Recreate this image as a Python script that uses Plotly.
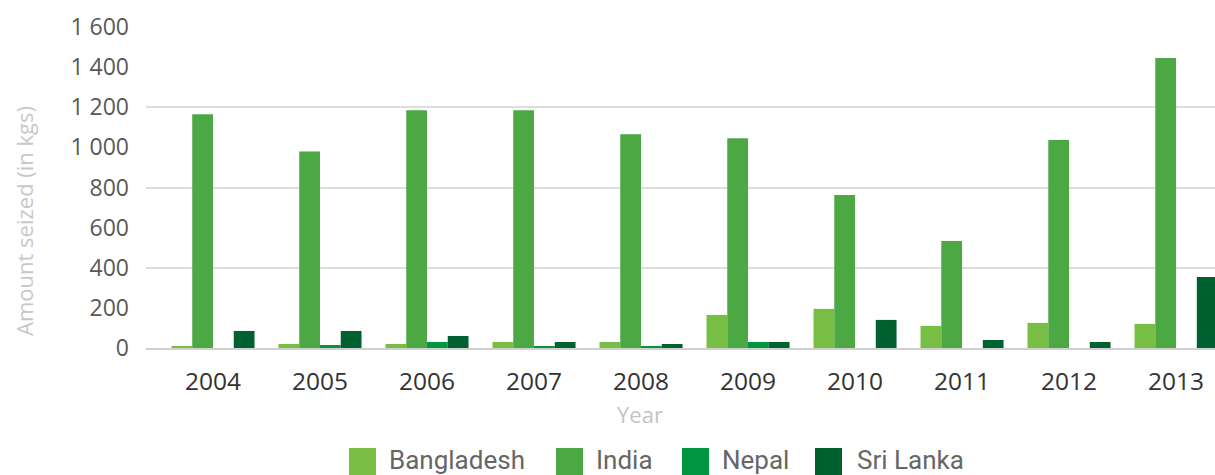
import plotly.graph_objects as go

# Seizures by country and year (kg)
years = ["2004", "2005", "2006", "2007", "2008", "2009", "2010", "2011", "2012", "2013"]
bangladesh = [10, 20, 20, 30, 30, 165, 195, 110, 125, 120]
india = [1165, 980, 1185, 1185, 1065, 1045, 763, 533, 1037, 1446]
nepal = [0, 15, 30, 10, 10, 30, 0, 0, 0, 0]
sri_lanka = [85, 85, 60, 30, 20, 30, 140, 40, 30, 354]

series_names = ["Bangladesh", "India", "Nepal", "Sri Lanka"]
series_values = [bangladesh, india, nepal, sri_lanka]
series_colors = ["#78be44", "#4ba843", "#00953f", "#006130"]

y_ticks = list(range(0, 1601, 200))
grid_ticks = list(range(0, 1601, 400))
Y_MAX = 1605  # a little headroom so the 1 600 gridline is drawn

# Page geometry (pixels)
W, H = 1215, 475
PLOT_L, PLOT_R, PLOT_B = 146, 1215, 348
PX_PER_UNIT = 0.2006
PLOT_T = PLOT_B - Y_MAX * PX_PER_UNIT


def px_x(x):
    return (x - PLOT_L) / (PLOT_R - PLOT_L)


def px_y(y):
    return (PLOT_B - y) / (PLOT_B - PLOT_T)


fig = go.Figure()
for name, vals, col in zip(series_names, series_values, series_colors):
    fig.add_trace(go.Bar(
        x=list(range(len(years))), y=vals, name=name,
        marker=dict(color=col, line=dict(width=0)),
        showlegend=False,
    ))

# Empty trace so the labelled overlay axis gets drawn
fig.add_trace(go.Scatter(x=[], y=[], yaxis="y2", showlegend=False, hoverinfo="skip"))

# Hand-built legend: large square swatches followed by labels
legend_swatch_x = [349, 556, 682, 815]
legend_text_x = [387, 594, 720, 855]
shapes = []
annotations = []
for name, col, sx, tx in zip(series_names, series_colors, legend_swatch_x, legend_text_x):
    shapes.append(dict(type="rect", xref="paper", yref="paper",
                       x0=px_x(sx), x1=px_x(sx + 27), y0=px_y(448), y1=px_y(475),
                       fillcolor=col, line=dict(width=0)))
    annotations.append(dict(text=name, xref="paper", yref="paper",
                            x=px_x(tx), y=px_y(460), xanchor="left", yanchor="middle",
                            showarrow=False,
                            font=dict(family="Roboto", size=26, color="#666666")))

annotations.append(dict(text="Year", xref="paper", yref="paper",
                        x=px_x(639.5), y=px_y(414), xanchor="center", yanchor="middle",
                        showarrow=False,
                        font=dict(family="Open Sans", size=22, color="#c4c4c8")))
annotations.append(dict(text="Amount seized (in kgs)", xref="paper", yref="paper",
                        x=px_x(24), y=px_y(221), xanchor="center", yanchor="middle",
                        textangle=-90, showarrow=False,
                        font=dict(family="Open Sans", size=22, color="#c8c8c8")))

fig.update_layout(
    width=W, height=H,
    margin=dict(l=PLOT_L, r=W - PLOT_R, t=PLOT_T, b=H - PLOT_B, autoexpand=False),
    paper_bgcolor="white", plot_bgcolor="white",
    barmode="group", bargap=0.224, bargroupgap=0,
    separators=". ",
    showlegend=False,
    shapes=shapes, annotations=annotations,
    xaxis=dict(
        range=[-0.626, 9.364],
        tickmode="array", tickvals=list(range(len(years))), ticktext=years,
        showgrid=False, zeroline=False,
        showline=True, linecolor="#d0d0d0", linewidth=2,
        ticks="", ticklabelstandoff=11,
        tickfont=dict(family="Open Sans", size=24.5, color="#333333"),
    ),
    yaxis=dict(
        range=[0, Y_MAX], tickmode="array", tickvals=grid_ticks,
        showticklabels=False, showgrid=True, gridcolor="#dedede", gridwidth=1.7,
        zeroline=False, ticks="",
    ),
    yaxis2=dict(
        range=[0, Y_MAX], overlaying="y", side="left",
        tickmode="array", tickvals=y_ticks, tickformat=",d",
        showgrid=False, zeroline=False, ticks="", ticklabelstandoff=16,
        tickfont=dict(family="Open Sans", size=23, color="#595959"),
    ),
)

fig.write_html("out.html")
